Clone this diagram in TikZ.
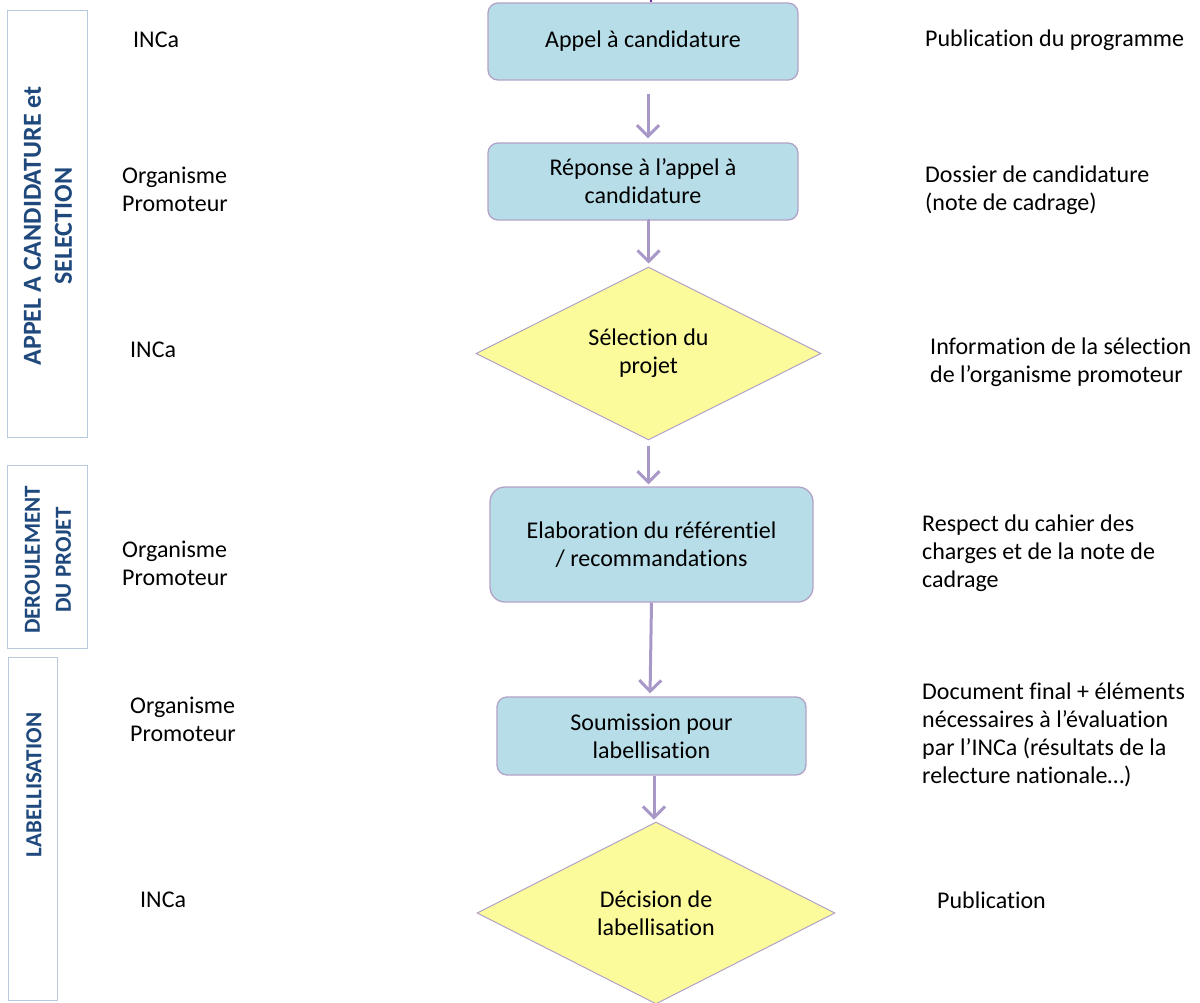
\documentclass[tikz,border=0pt]{standalone}
\usepackage{fontspec}
\setmainfont{Carlito}[Ligatures=NoCommon]
\usetikzlibrary{arrows.meta,shapes.geometric}
\definecolor{boxfill}{HTML}{B7DDE8}
\definecolor{boxline}{HTML}{B3A2C7}
\definecolor{diafill}{HTML}{FBFB9C}
\definecolor{arrcol}{HTML}{A898C8}
\definecolor{secblue}{HTML}{1F497D}
\definecolor{secline}{HTML}{B9C9DD}
\definecolor{topline}{HTML}{7030A0}
\begin{document}
\begin{tikzpicture}[x=1pt,y=-1pt,
  every node/.style={font=\fontsize{24}{28}\selectfont, inner sep=0pt},
  stepbox/.style={draw=boxline, line width=1.3pt, fill=boxfill, rounded corners=10pt, align=center},
  decision/.style={diamond, draw=boxline, line width=1pt, fill=diafill, align=center},
  seclabel/.style={draw=secline, line width=1pt, fill=white},
  sectext/.style={rotate=90, align=center, text=secblue},
  side/.style={anchor=west, align=left},
  arr/.style={draw=arrcol, line width=3pt, -{Straight Barb[length=11pt,width=22pt,line width=3pt]}}
]
\useasboundingbox (0,0) rectangle (1200,1002);

% section frames
\node[seclabel, minimum width=80pt, minimum height=427pt] (s1) at (47,223.5) {};
\node[seclabel, minimum width=80pt, minimum height=183pt] (s2) at (47,556.5) {};
\node[seclabel, minimum width=49pt, minimum height=343pt] (s3) at (32.5,829) {};
\node[sectext, font=\fontsize{26}{31}\selectfont\bfseries] (t1) at (48,226) {APPEL A CANDIDATURE et\\SELECTION};
\node[sectext, font=\fontsize{23}{31}\selectfont\bfseries] (t2) at (48,560) {DEROULEMENT\\DU PROJET};
\node[sectext, font=\fontsize{23}{31}\selectfont\bfseries] (t3) at (34,785) {LABELLISATION};

% flow nodes
\node[stepbox, minimum width=310pt, minimum height=77pt] (b1) at (643,41.5) {Appel à candidature};
\node[stepbox, minimum width=310pt, minimum height=77pt] (b2) at (643,181.5) {Réponse à l’appel à\\candidature};
\node[decision, minimum width=345pt, minimum height=173pt] (d1) at (648.5,353.5) {Sélection du\\projet};
\node[stepbox, rounded corners=15pt, minimum width=323pt, minimum height=115pt] (b3) at (651.5,544.5) {Elaboration du référentiel\\/ recommandations};
\node[stepbox, minimum width=309pt, minimum height=78pt] (b4) at (651.5,736) {Soumission pour\\labellisation};
\node[decision, minimum width=358pt, minimum height=182pt] (d2) at (656,913) {Décision de\\labellisation};

% small connector entering from above
\coordinate (topin) at (651,-2);
\draw[topline, line width=2.5pt] (topin) -- (b1.north -| topin);

% connectors
\draw[arr, shorten <=13pt, shorten >=4pt] ([xshift=5pt]b1.south) -- ([xshift=5pt]b2.north);
\draw[arr, shorten >=3pt] ([xshift=5pt]b2.south) -- (b2.south -| d1.north) -- (d1.north);
\draw[arr, shorten <=5pt, shorten >=2pt] (d1.south) -- (b3.north -| d1.south);
\draw[arr, shorten >=3pt] (b3.south) -- ([xshift=-1.5pt]b4.north);
\draw[arr, shorten >=2pt] ([xshift=2.5pt]b4.south) -- ([xshift=-2pt]d2.north);

% left labels
\node[side] (l1) at (133,40) {INCa};
\node[side] (l2) at (122,189) {Organisme\\Promoteur};
\node[side] (l3) at (130,350) {INCa};
\node[side] (l4) at (122,563) {Organisme\\Promoteur};
\node[side] (l5) at (130,719) {Organisme\\Promoteur};
\node[side] (l6) at (140,900) {INCa};

% right labels
\node[side] (r1) at (925,40) {Publication du programme};
\node[side] (r2) at (925,190) {Dossier de candidature\\(note de cadrage)};
\node[side] (r3) at (930,362) {Information de la sélection\\de l’organisme promoteur};
\node[side] (r4) at (922,553) {Respect du cahier des\\charges et de la note de\\cadrage};
\node[side] (r5) at (922,735) {Document final + éléments\\nécessaires à l’évaluation\\par l’INCa (résultats de la\\relecture nationale…)};
\node[side] (r6) at (937,900) {Publication};
\end{tikzpicture}
\end{document}
